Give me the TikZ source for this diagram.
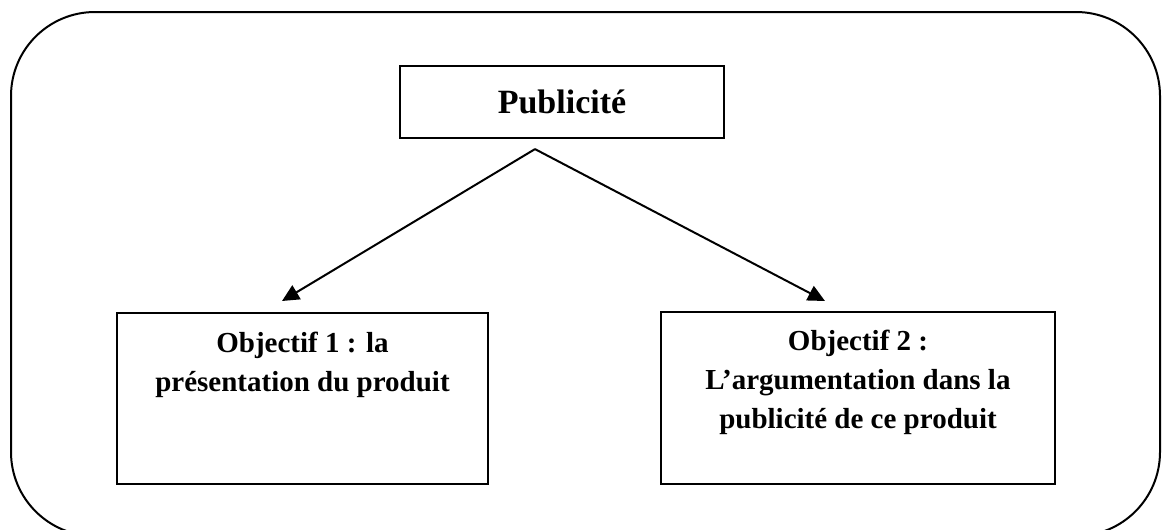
\documentclass[tikz,border=0pt]{standalone}
\usepackage{fontspec}
\setmainfont{Liberation Serif}
\usepackage{tikz}
\usetikzlibrary{positioning,arrows.meta}

\tikzset{
	frame/.style={draw, line width=2pt, rounded corners=84pt},
	topbox/.style={draw, line width=2.2pt, minimum width=324pt, minimum height=72pt, inner sep=0pt,
		font=\fontsize{34}{40}\selectfont\bfseries},
	objbox/.style={draw, line width=2.2pt, inner sep=0pt},
	objtext/.style={align=center, inner sep=0pt, font=\fontsize{29}{39}\selectfont\bfseries},
	arr/.style={line width=2pt, -{Triangle[length=17pt,width=16pt]}}
}

\begin{document}
\begin{tikzpicture}[x=1pt, y=-1pt]
	\useasboundingbox (0,0) rectangle (1162,530);
	\clip (0,0) rectangle (1162,530);
	\draw[frame] (11,12) rectangle (1160,536);
	\node[topbox] (pub) at (562,102) {Publicité};
	\coordinate[below=10pt of pub.south, xshift=-27pt] (apex);
	\node[objbox, minimum width=371pt, minimum height=171pt] (obj1) at (302.5,398.5) {};
	\node[objbox, minimum width=394pt, minimum height=172pt] (obj2) at (858,398) {};
	\node[objtext, below=20pt of obj1.north] (obj1text) {Objectif 1 : la\\présentation du produit};
	\node[objtext, below=19pt of obj2.north] (obj2text) {Objectif 2 :\\L’argumentation dans la\\publicité de ce produit};
	\coordinate (tip1) at (282,301);
	\coordinate (tip2) at (825,301);
	\draw[arr] (apex) -- (tip1);
	\draw[arr] (apex) -- (tip2);
\end{tikzpicture}
\end{document}
